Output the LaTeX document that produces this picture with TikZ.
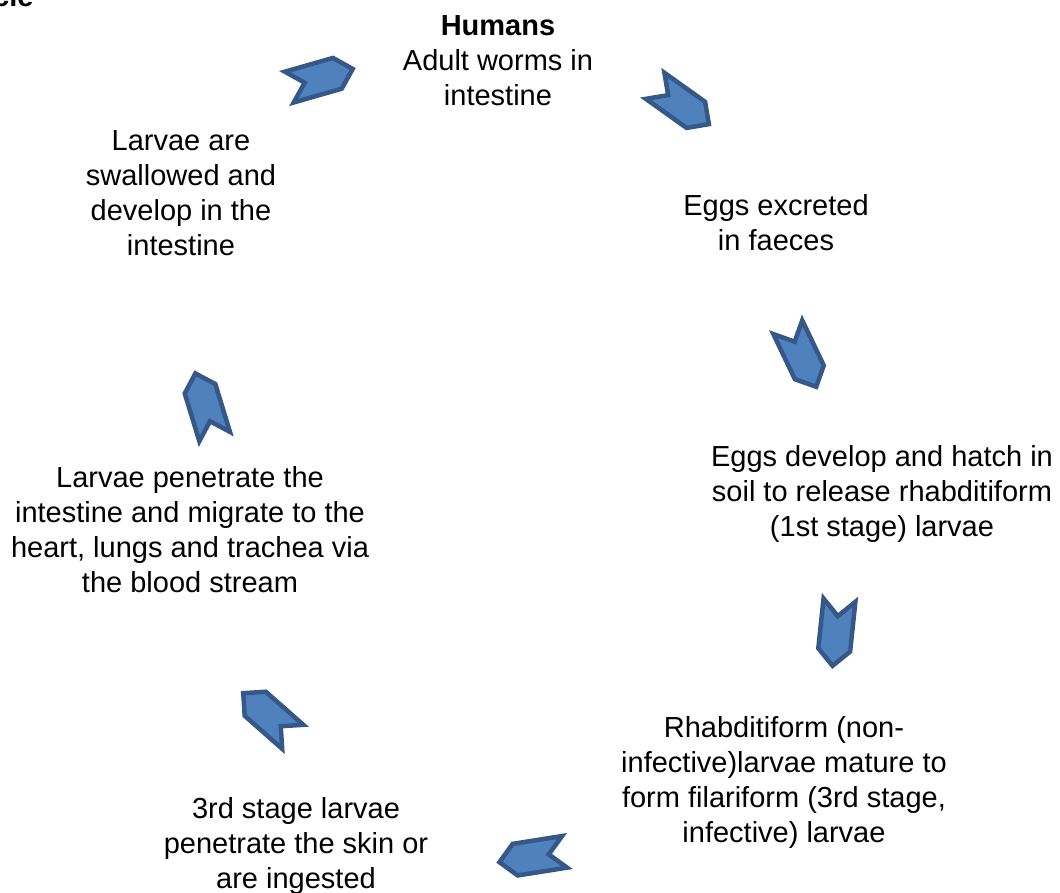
\documentclass[tikz,border=0pt]{standalone}
\usepackage{fontspec}
\setmainfont{Liberation Sans}
\definecolor{chevfill}{HTML}{4F81BD}
\definecolor{chevline}{HTML}{355888}
\tikzset{
  chev/.style={fill=chevfill,draw=chevline,line width=4.5pt,line join=miter},
  lbl/.style={align=center,inner sep=0pt,font=\fontsize{29}{35}\selectfont}
}
\newcommand\chevronat[3]{%
  \begin{scope}[shift={(#1,#2)},rotate=#3]
    \draw[chev] (-33,16) -- (17,16) -- (33,0) -- (17,-16) -- (-33,-16) -- (-17,0) -- cycle;
  \end{scope}}
\begin{document}
\begin{tikzpicture}[x=1pt,y=-1pt]
\useasboundingbox (0,0) rectangle (1060,893);
\fill[white] (0,0) rectangle (1060,893);
\clip (0,0) rectangle (1060,893);
% partially visible title
\node[anchor=base west,inner sep=0pt,font=\fontsize{29}{35}\selectfont\bfseries] (title) at (-7,7) {cle};
% texts
\node[lbl] (humans) at (498,61) {\textbf{Humans}\\Adult worms in\\intestine};
\node[lbl] (eggs) at (776,223) {Eggs excreted\\in faeces};
\node[lbl] (hatch) at (882,494) {Eggs develop and hatch in\\soil to release rhabditiform\\(1st stage) larvae};
\node[lbl] (mature) at (784,782) {Rhabditiform (non-\\infective)larvae mature to\\form filariform (3rd stage,\\infective) larvae};
\node[lbl] (skin) at (296,846) {3rd stage larvae\\penetrate the skin or\\are ingested};
\node[lbl] (migrate) at (190,530) {Larvae penetrate the\\intestine and migrate to the\\heart, lungs and trachea via\\the blood stream};
\node[lbl] (swallow) at (181,193) {Larvae are\\swallowed and\\develop in the\\intestine};
% chevrons
\chevronat{321}{78}{16}
\chevronat{682}{105}{-35.5}
\chevronat{802}{357}{-64.5}
\chevronat{836}{633}{-96}
\chevronat{532}{857}{189}
\chevronat{268}{715}{138.6}
\chevronat{205}{405}{107}
\end{tikzpicture}
\end{document}
